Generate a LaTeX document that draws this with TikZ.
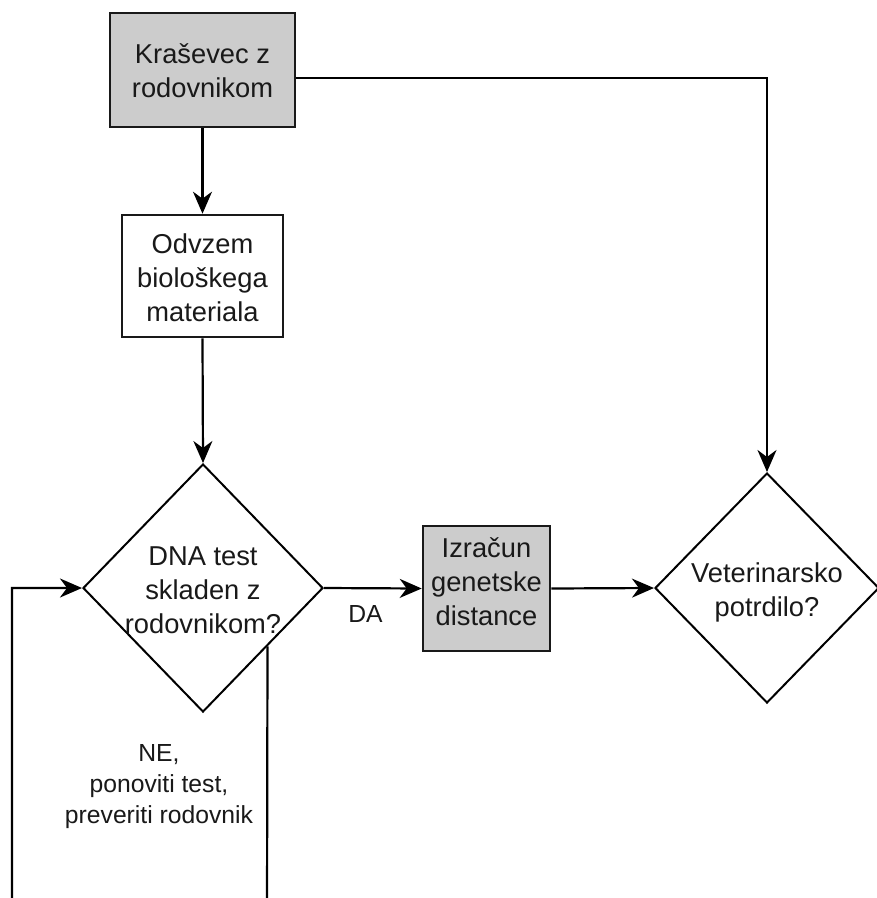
\documentclass[tikz,border=0pt]{standalone}
\usepackage{fontspec}
\setmainfont{Liberation Sans}
\usetikzlibrary{shapes.geometric,arrows.meta,calc}
\begin{document}
\begin{tikzpicture}[x=1pt,y=-1pt,
  boxshape/.style={draw=black!90, line width=2.6pt, inner sep=0pt},
  greybox/.style={boxshape, fill=gray!40},
  dia/.style={draw=black, line width=2pt, shape=diamond, inner sep=0pt},
  txt/.style={align=center, inner sep=0pt, text=black!90,
    font=\fontsize{27.3}{34}\selectfont},
  lbl/.style={align=center, inner sep=0pt, text=black!90,
    font=\fontsize{24.7}{31}\selectfont},
  conn/.style={draw=black, line width=2.2pt},
  arr/.style={conn, -{Stealth[length=22pt,width=19pt,inset=7pt]}}]
\clip (0,0) rectangle (877,898);
\fill[white] (0,0) rectangle (877,898);
% shapes
\node[greybox, minimum width=185pt, minimum height=114pt] (top) at (202.5,70) {};
\node[boxshape, fill=white, minimum width=161pt, minimum height=122pt] (odv) at (202.5,276) {};
\node[dia, minimum width=240pt, minimum height=248pt] (dna) at (203,588) {};
\node[greybox, minimum width=127pt, minimum height=125pt] (izr) at (486.5,588.5) {};
\node[dia, minimum width=224pt, minimum height=230pt] (vet) at (767,588) {};
% texts
\node[txt] (toptxt) at (202.5,70.5) {Kraševec z\\rodovnikom};
\node[txt] (odvtxt) at (202.5,278) {Odvzem\\biološkega\\materiala};
\node[txt] (dnatxt) at (203,590) {DNA test\\skladen z\\rodovnikom?};
\node[txt] (izrtxt) at (486.5,581.5) {Izračun\\genetske\\distance};
\node[txt] (vettxt) at (767,592.5) {Veterinarsko\\potrdilo?};
\node[lbl] (da) at (365.5,614) {DA};
\node[lbl] (ne) at (159,787) {NE,\\ponoviti test,\\preveriti rodovnik};
% connectors
\draw[arr] (top.south) -- (odv.north);
\draw[arr] (odv.south) -- (dna.north);
\draw[arr] (dna.east) -- (izr.west);
\draw[arr] (izr.east) -- (vet.west);
\draw[arr] ([yshift=-8pt]top.east) -| (vet.north);
\coordinate (lstart) at ($(dna.east)!0.467!(dna.south)$);
\coordinate (lbr) at (267,920);
\coordinate (lbl) at (12,920);
\draw[arr] (lstart) -- (lbr) -- (lbl) |- (dna.west);
\end{tikzpicture}
\end{document}
